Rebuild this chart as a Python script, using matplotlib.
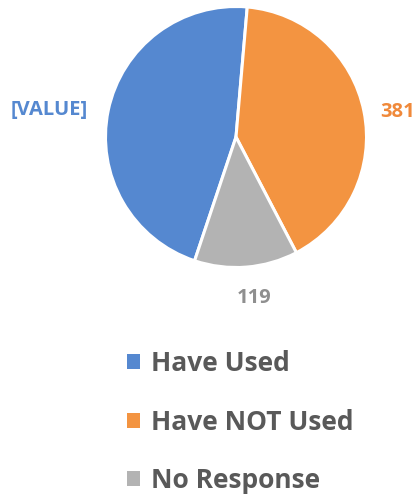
import numpy as np
import matplotlib.pyplot as plt
from matplotlib.patches import Patch

categories = ["Have Used", "Have NOT Used", "No Response"]
values = [430, 381, 119]
value_labels = ["[VALUE]", "381", "119"]
colors = ["#5588D0", "#F39441", "#B3B3B3"]
label_colors = ["#5588D0", "#F0893A", "#8F8F8F"]
# label anchors (centre x, baseline y) in units of the pie radius
label_xy = [(-1.433, 0.171), (1.241, 0.151), (0.138, -1.274)]

plt.rcParams['font.family'] = ['Open Sans', 'DejaVu Sans']

fig = plt.figure(figsize=(4.19, 4.96), dpi=100)
# one data unit = pie radius = 130.5 px, centre at (236, 137) px from top-left
R = 130.5
ax = fig.add_axes([0, 0, 1, 1])
wedges, _ = ax.pie(values, colors=colors, startangle=-108.5, counterclock=False,
                   radius=1.0, wedgeprops=dict(edgecolor="white", linewidth=2.2))
ax.set_xlim(-236 / R, (419 - 236) / R)
ax.set_ylim(-(496 - 137) / R, 137 / R)
ax.set_aspect('auto')
ax.axis('off')

for (x, y), txt, c in zip(label_xy, value_labels, label_colors):
    ax.text(x, y, txt, color=c, fontsize=14.5, fontweight='bold',
            ha='center', va='baseline')

handles = [Patch(facecolor=c, edgecolor='none') for c in colors]
leg = fig.legend(handles, categories, loc='upper left',
                 bbox_to_anchor=(127 / 419, 1 - 350 / 496), frameon=False,
                 handlelength=0.5, handleheight=0.5, handletextpad=0.4,
                 labelspacing=1.2, borderpad=0, borderaxespad=0,
                 prop=dict(size=19, weight='bold'))
for t in leg.get_texts():
    t.set_color('#595959')

fig.savefig("out.png", dpi=100)
